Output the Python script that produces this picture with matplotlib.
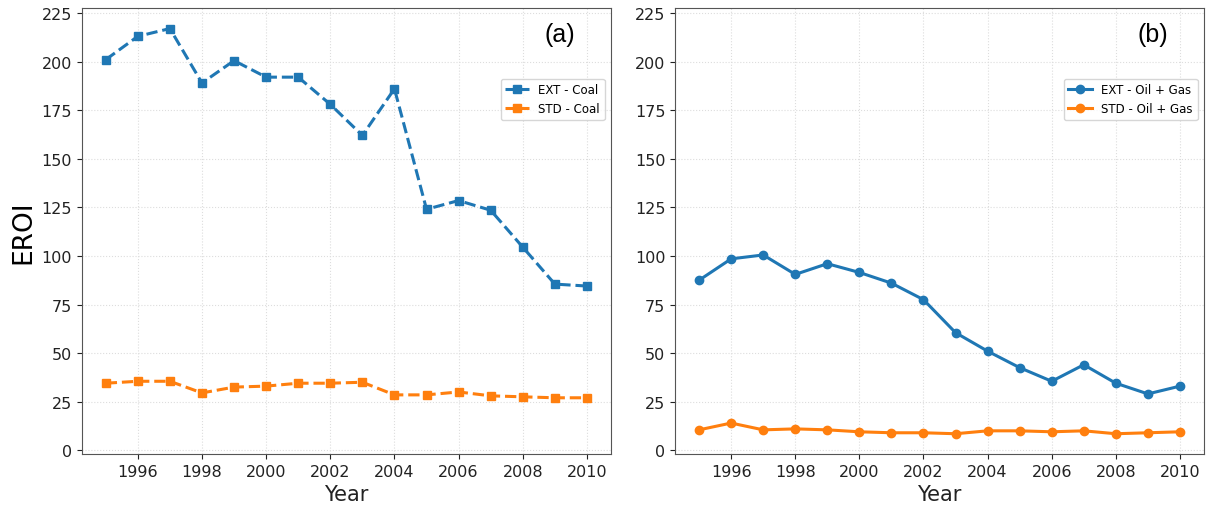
import matplotlib
matplotlib.use("Agg")
import matplotlib.pyplot as plt

years = list(range(1995, 2011))
coal_ext = [201, 213, 217, 189, 200.5, 192, 192, 178, 162, 186, 124, 128.5, 123.5, 104.5, 85.5, 84.5]
coal_std = [34.5, 35.5, 35.5, 29.5, 32.5, 33, 34.5, 34.5, 35, 28.5, 28.5, 30, 28, 27.5, 27, 27]
og_ext = [87.5, 98.5, 100.5, 90.5, 96, 91.5, 86, 77.5, 60.5, 51, 42.5, 35.5, 44, 34.5, 29, 33]
og_std = [10.5, 14, 10.5, 11, 10.5, 9.5, 9, 9, 8.5, 10, 10, 9.5, 10, 8.5, 9, 9.5]
xticks = [1996, 1998, 2000, 2002, 2004, 2006, 2008, 2010]
yticks = [0, 25, 50, 75, 100, 125, 150, 175, 200, 225]

blue = "#1f77b4"
orange = "#ff7f0e"

fig = plt.figure(figsize=(12.08, 5.06), dpi=100)
ax1 = fig.add_axes([0.0676, 0.1008, 0.4382, 0.8808])
ax2 = fig.add_axes([0.5588, 0.1008, 0.4379, 0.8808], sharey=ax1)

ax1.plot(years, coal_ext, linestyle="--", marker="s", color=blue, lw=2.2, ms=6, label="EXT - Coal")
ax1.plot(years, coal_std, linestyle="--", marker="s", color=orange, lw=2.2, ms=6, label="STD - Coal")
ax2.plot(years, og_ext, linestyle="-", marker="o", color=blue, lw=2.2, ms=6, label="EXT - Oil + Gas")
ax2.plot(years, og_std, linestyle="-", marker="o", color=orange, lw=2.2, ms=6, label="STD - Oil + Gas")

allvals = coal_ext + coal_std + og_ext + og_std
lo, hi = min(allvals), max(allvals)
m = 0.05 * (hi - lo)

for ax, tag in ((ax1, "(a)"), (ax2, "(b)")):
    ax.set_xticks(xticks)
    ax.set_yticks(yticks)
    ax.set_ylim(lo - m, hi + m)
    ax.grid(True, color="#dddddd", linestyle=":", linewidth=0.8)
    ax.tick_params(labelsize=11.5, colors="#222222", labelleft=True)
    ax.set_xlabel("Year", fontsize=15, color="#222222")
    for s in ax.spines.values():
        s.set_color("#555555")
    ax.text(0.904, 0.942, tag, transform=ax.transAxes, fontsize=18,
            family=["Liberation Sans", "DejaVu Sans"], ha="center", va="center")
    ax.legend(loc="upper right", bbox_to_anchor=(0.988, 0.842), borderaxespad=0, fontsize=8.5)

ax1.set_ylabel("EROI", fontsize=19)

fig.savefig("out.png", dpi=100)
